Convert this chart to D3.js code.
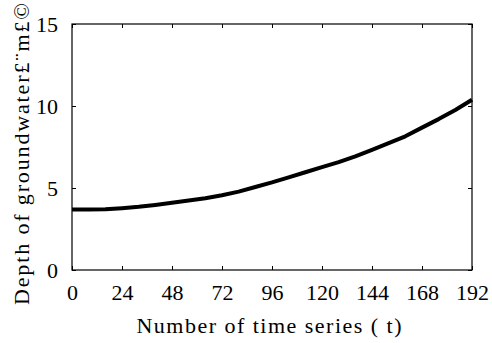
<!DOCTYPE html>
<html>
<head>
<meta charset="utf-8">
<script src="https://cdn.jsdelivr.net/npm/d3@7"></script>
<style>
  body { margin: 0; background: #fff; }
</style>
</head>
<body>
<div id="chart"></div>
<script>
// time steps and groundwater depth
const timeSteps = [0, 8, 16, 24, 32, 40, 48, 56, 64, 72, 80, 88, 96, 104, 112, 120, 128, 136, 144, 152, 160, 168, 176, 184, 192];
const depth = [3.69, 3.69, 3.70, 3.77, 3.85, 3.97, 4.10, 4.24, 4.38, 4.56, 4.78, 5.06, 5.34, 5.65, 5.96, 6.27, 6.58, 6.93, 7.32, 7.73, 8.15, 8.68, 9.20, 9.76, 10.38];
const xTicks = [0, 24, 48, 72, 96, 120, 144, 168, 192];
const yTicks = [0, 5, 10, 15];
const xTitle = "Number of time series ( t)";
const yTitle = "Depth of groundwater£¨m£©";

const FONT = '"Liberation Serif"';

const W = 492, H = 343;
const margin = {top: 24, right: 20, bottom: 73, left: 72};
const width = W - margin.left - margin.right;
const height = H - margin.top - margin.bottom;

const svg = d3.select("#chart").append("svg")
    .attr("width", W)
    .attr("height", H);

const g = svg.append("g")
    .attr("transform", `translate(${margin.left},${margin.top})`);

const x = d3.scaleLinear().domain([0, 192]).range([0, width]);
const y = d3.scaleLinear().domain([0, 15]).range([height, 0]);

// ticks point inward on every side
const tickStyle = sel => {
  sel.attr("font-family", "Liberation Serif").attr("font-size", 22);
  sel.select(".domain").remove();
  sel.selectAll("line").attr("stroke", "#000");
  sel.selectAll("text")
      .style("font-family", FONT)
      .style("font-size", "22px")
      .attr("fill", "#000");
};

g.append("g")
    .attr("transform", `translate(0,${height})`)
    .call(d3.axisBottom(x).tickValues(xTicks).tickSizeInner(-4).tickSizeOuter(0).tickPadding(18))
    .call(tickStyle)
    .selectAll("text").attr("dy", "0.55em");

g.append("g")
    .call(d3.axisTop(x).tickValues(xTicks).tickSizeInner(-4).tickSizeOuter(0).tickFormat(""))
    .call(tickStyle);

g.append("g")
    .call(d3.axisLeft(y).tickValues(yTicks).tickSizeInner(-4).tickSizeOuter(0).tickPadding(14))
    .call(tickStyle);

g.append("g")
    .attr("transform", `translate(${width},0)`)
    .call(d3.axisRight(y).tickValues(yTicks).tickSizeInner(-4).tickSizeOuter(0).tickFormat(""))
    .call(tickStyle);

g.append("rect")
    .attr("width", width)
    .attr("height", height)
    .attr("fill", "none")
    .attr("stroke", "#000")
    .attr("stroke-width", 1.2);

const line = d3.line()
    .x((d, i) => x(timeSteps[i]))
    .y(d => y(d));

g.append("path")
    .datum(depth)
    .attr("fill", "none")
    .attr("stroke", "#000")
    .attr("stroke-width", 4)
    .attr("stroke-linejoin", "round")
    .attr("d", line);

// axis titles
svg.append("text")
    .attr("x", margin.left + width / 2 - 3)
    .attr("y", 333)
    .attr("text-anchor", "middle")
    .attr("textLength", 265)
    .attr("lengthAdjust", "spacing")
    .style("font-family", FONT)
    .style("font-size", "22px")
    .text(xTitle);

svg.append("text")
    .attr("transform", "translate(29,305)rotate(-90)")
    .attr("text-anchor", "start")
    .attr("textLength", 302)
    .attr("lengthAdjust", "spacing")
    .style("font-family", FONT)
    .style("font-size", "22px")
    .text(yTitle);
</script>
</body>
</html>
